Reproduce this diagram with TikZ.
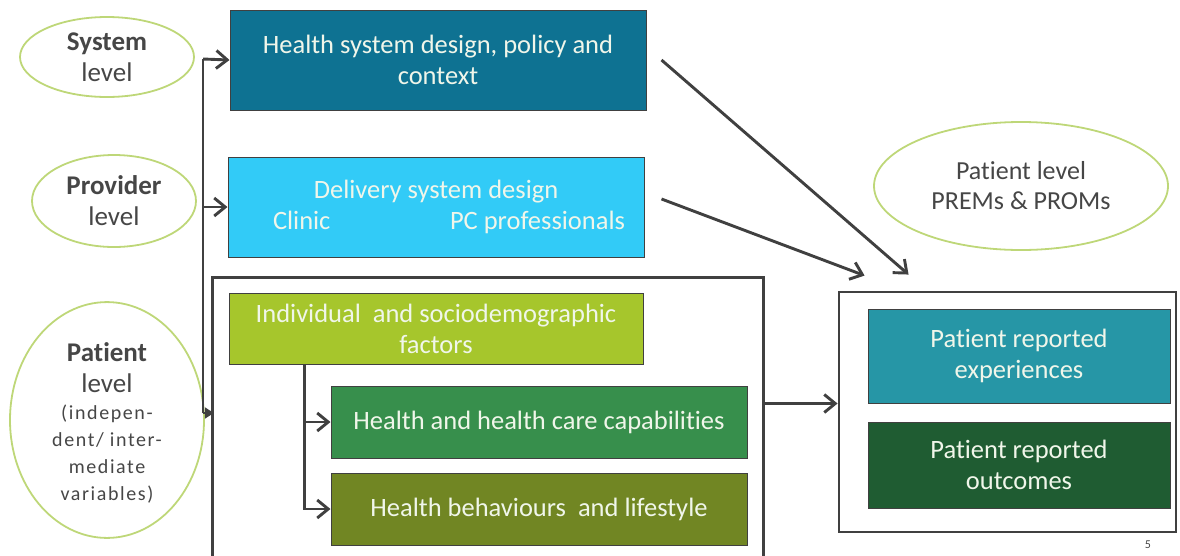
\documentclass[tikz,border=0pt]{standalone}
\usepackage{fontspec}
\setmainfont[Ligatures=NoCommon]{Carlito}
\newfontfamily\spacedfont[LetterSpace=8,Ligatures=NoCommon]{Carlito}
\usetikzlibrary{arrows.meta,calc,positioning,shapes.geometric}
\definecolor{SysBlue}{RGB}{14,114,146}
\definecolor{SkyBlue}{RGB}{50,203,247}
\definecolor{LimeGreen}{RGB}{166,198,44}
\definecolor{LeafGreen}{RGB}{55,143,76}
\definecolor{Olive}{RGB}{113,134,35}
\definecolor{Teal}{RGB}{38,150,166}
\definecolor{Forest}{RGB}{31,92,50}
\definecolor{EllGreen}{RGB}{190,215,120}
\definecolor{LineGray}{RGB}{64,64,64}
\definecolor{LabelGray}{RGB}{70,70,70}
\definecolor{BoxText}{RGB}{240,246,234}
\newcommand\boxsize{\fontsize{26.5}{31}\selectfont}
\newcommand\lvlsize{\fontsize{27}{31}\selectfont}
\newcommand\smallspaced{\spacedfont\fontsize{20}{26}\selectfont}

\begin{document}
\begin{tikzpicture}[x=1pt,y=-1pt,
  lvl/.style={ellipse,draw=EllGreen,line width=1.8pt,text=LabelGray,align=center,inner sep=0pt,font=\lvlsize},
  box/.style={rectangle,draw=LineGray,line width=1pt,text=BoxText,align=center,inner sep=0pt,font=\boxsize},
  wire/.style={draw=LineGray,line width=2.9pt},
  link/.style={wire,-{Straight Barb[length=11pt,width=18pt,line width=2.9pt]}}]
  \useasboundingbox (0,0) rectangle (1180,555);
  % levels on the left
  \node[lvl,minimum width=174,minimum height=80] (syslvl) at (107,57){\textbf{System}\\level};
  \node[lvl,minimum width=164,minimum height=92] (provlvl) at (114,201){\textbf{Provider}\\level};
  \node[lvl,minimum width=194,minimum height=226] (patlvl) at (107,420)
    {\\[-6pt]\textbf{Patient}\\level\\[-4pt]{\smallspaced (indepen-}\\[-4pt]{\smallspaced dent/ inter-}\\[-4pt]{\smallspaced mediate}\\[-4pt]{\smallspaced variables)}};
  \node[lvl,minimum width=294,minimum height=128,font=\fontsize{26}{30}\selectfont] (outlvl) at (1021,186){Patient level\\PREMs \& PROMs};
  % determinant boxes
  \node[box,fill=SysBlue,minimum width=416,minimum height=100] (sysbox) at (438,60){Health system design, policy and\\context};
  \node[box,fill=SkyBlue,minimum width=416,minimum height=100] (provbox) at (436,207)
    {Delivery system design\\\hspace*{26pt}\makebox[352pt]{Clinic\hfill PC professionals}};
  \node[draw=none,rectangle,minimum width=550,minimum height=278,inner sep=0pt] (patgroup) at (488,417){};
  \draw[wire] (patgroup.south west) |- (patgroup.north east) -- (patgroup.south east);
  \node[box,fill=LimeGreen,minimum width=414,minimum height=71] (indiv) at (436,329){Individual\ \ and sociodemographic\\factors};
  \node[box,fill=LeafGreen,minimum width=416,minimum height=72] (capab) at (539,422){Health and health care capabilities};
  \node[box,fill=Olive,minimum width=416,minimum height=72] (behav) at (539,509){Health behaviours\ \ and lifestyle};
  % outcomes
  \node[draw=LineGray,line width=2.9pt,rectangle,minimum width=337,minimum height=240,inner sep=0pt] (outbox) at (1007.5,412){};
  \node[box,fill=Teal,minimum width=302,minimum height=94] (exper) at (1019,356){Patient reported\\experiences};
  \node[box,fill=Forest,minimum width=302,minimum height=86] (outcm) at (1019,465){Patient reported\\outcomes};
  \node[text=LabelGray,font=\fontsize{12}{12}\selectfont] (pageno) at (1148,545){5};
  % spine on the left
  \coordinate (spinetop) at (203,59);
  \coordinate (spinebot) at (203,413);
  \draw[wire] (spinetop) -- (spinebot);
  \draw[link] (spinetop) -- (sysbox.west);
  \draw[link] (provbox.west -| spinetop) -- (provbox.west);
  \draw[wire,-{Triangle[length=9pt,width=11pt]},shorten >=-1pt] (spinebot) -- (spinebot -| patgroup.west);
  % branches below the individual factors
  \coordinate (branch) at ([xshift=76]indiv.south west);
  \draw[link] (branch) |- (capab.west);
  \draw[link] (branch) |- (behav.west);
  % towards the outcomes
  \coordinate (in1) at ([xshift=71,yshift=16]outbox.north west);
  \coordinate (in2) at ([xshift=27,yshift=15]outbox.north west);
  \draw[link] ([xshift=15]sysbox.east) -- (in1);
  \draw[link] ([xshift=17,yshift=8]provbox.east) -- (in2);
  \draw[link] (exper.south -| patgroup.east) -- (exper.south -| outbox.west);
\end{tikzpicture}
\end{document}
